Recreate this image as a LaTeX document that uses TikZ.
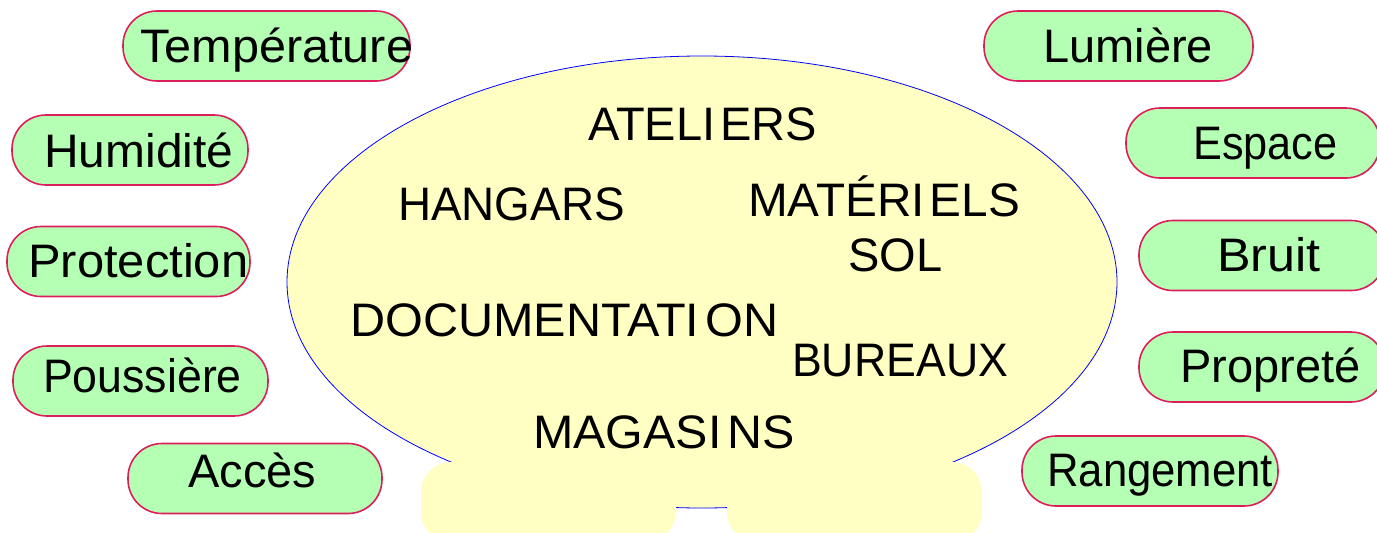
\documentclass[tikz,border=0pt]{standalone}
\usepackage{graphicx}
\usepackage{fontspec}
\setmainfont{Liberation Sans}
\usetikzlibrary{shapes.geometric}
\definecolor{pillfill}{HTML}{B5FFB5}
\definecolor{pilldraw}{HTML}{DC1F5A}
\definecolor{hallfill}{HTML}{FFFFC4}
\newcommand{\wsc}[2]{\scalebox{#1}[1]{#2}}
\tikzset{
  pill/.style={rectangle, rounded corners=34pt, draw=pilldraw, fill=pillfill, line width=1.6pt, inner sep=0pt, minimum height=70pt},
  lbl/.style={anchor=base west, inner sep=0pt, font=\fontsize{47}{50}\selectfont},
  hall/.style={ellipse, draw=blue, fill=hallfill, line width=0.8pt, inner sep=0pt},
  foot/.style={rectangle, rounded corners=30pt, fill=hallfill, inner sep=0pt}
}
\begin{document}
\begin{tikzpicture}[x=1pt,y=-1pt]
\useasboundingbox (0,0) rectangle (1377,533);
% central hall
\node[hall, minimum width=830pt, minimum height=452pt] (hallshape) at (702,282) {};
\node[foot, minimum width=255pt, minimum height=80pt] (footL) at (548.5,502) {};
\node[foot, minimum width=255pt, minimum height=80pt] (footR) at (854.5,502) {};
% pills left
\node[pill, minimum width=287pt] (pTemp) at (266.5,46) {};
\node[pill, minimum width=236pt] (pHum) at (130,150) {};
\node[pill, minimum width=243pt] (pProt) at (128.5,261.5) {};
\node[pill, minimum width=255pt] (pPous) at (140.5,381) {};
\node[pill, minimum width=254pt] (pAcc) at (255,478.5) {};
% pills right
\node[pill, minimum width=269pt] (pLum) at (1118.5,46) {};
\node[pill, minimum width=254pt] (pEsp) at (1253,143) {};
\node[pill, minimum width=246pt] (pBruit) at (1262,255.5) {};
\node[pill, minimum width=246pt] (pProp) at (1262,367) {};
\node[pill, minimum width=256pt] (pRang) at (1150,471) {};
% pill labels
\node[lbl] (tTemp) at (140,62) {\wsc{1.034}{Température}};
\node[lbl] (tHum) at (44,167) {\wsc{1.02}{Humidité}};
\node[lbl] (tProt) at (28,277) {\wsc{1.04}{Protection}};
\node[lbl] (tPous) at (43,392) {\wsc{0.95}{Poussière}};
\node[lbl] (tAcc) at (188,487) {Accès};
\node[lbl] (tLum) at (1043,62) {Lumière};
\node[lbl] (tEsp) at (1193,159) {\wsc{0.92}{Espace}};
\node[lbl] (tBruit) at (1217,271) {\wsc{1.07}{Bruit}};
\node[lbl] (tProp) at (1180,382) {Propreté};
\node[lbl] (tRang) at (1047,486) {\wsc{0.93}{Rangement}};
% hall labels
\node[lbl] (hAtel) at (588,140) {ATELI\kern5pt ERS};
\node[lbl] (hHang) at (398,220) {\wsc{0.975}{HANGARS}};
\node[lbl] (hMat) at (748,216) {\wsc{1.015}{MATÉRI\kern5pt ELS}};
\node[lbl] (hSol) at (848,271) {SOL};
\node[lbl] (hDoc) at (350,336) {\wsc{1.034}{DOCUMENTATI\kern6pt ON}};
\node[lbl] (hBur) at (792,376) {\wsc{0.95}{BUREAUX}};
\node[lbl] (hMag) at (533,448) {\wsc{1.03}{MAGASI\kern6pt NS}};
\end{tikzpicture}
\end{document}
